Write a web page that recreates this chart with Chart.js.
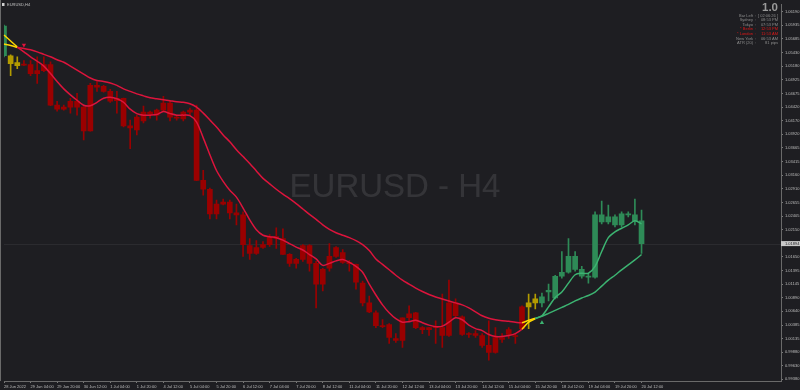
<!DOCTYPE html>
<html>
<head>
<meta charset="utf-8">
<script src="https://cdn.jsdelivr.net/npm/chart.js@4.4.0/dist/chart.umd.min.js"></script>
<style>
  html, body { margin: 0; padding: 0; background: #1e1e22; overflow: hidden; }
</style>
</head>
<body>
<canvas id="c" width="800" height="390"></canvas>
<script>
// EURUSD H4, 28 Jun 2022 12:00 .. 20 Jul 2022 12:00 (97 bars)
var symbol = 'EURUSD';
var period = 'H4';

var timeLabels = ['28 Jun 2022', '29 Jun 04:00', '29 Jun 20:00', '30 Jun 12:00', '1 Jul 04:00', '1 Jul 20:00',
  '4 Jul 12:00', '5 Jul 04:00', '5 Jul 20:00', '6 Jul 12:00', '7 Jul 04:00', '7 Jul 20:00', '8 Jul 12:00',
  '11 Jul 04:00', '11 Jul 20:00', '12 Jul 12:00', '13 Jul 04:00', '13 Jul 20:00', '14 Jul 12:00',
  '15 Jul 04:00', '15 Jul 20:00', '18 Jul 12:00', '19 Jul 04:00', '19 Jul 20:00', '20 Jul 12:00'];

var opens = [1.05372, 1.05372, 1.05244, 1.05207, 1.05207, 1.05043, 1.05098, 1.05207, 1.04457, 1.04384,
  1.04420, 1.04530, 1.04420, 1.03981, 1.04823, 1.04805, 1.04713, 1.04540, 1.04585, 1.04073,
  1.03999, 1.04164, 1.04329, 1.04274, 1.04365, 1.04494, 1.04237, 1.04201, 1.04329, 1.04365,
  1.03066, 1.02901, 1.02443, 1.02626, 1.02663, 1.02462, 1.02425, 1.01858, 1.01711, 1.01821,
  1.01876, 1.02022, 1.01986, 1.01693, 1.01528, 1.01601, 1.01858, 1.01528, 1.01144, 1.01437,
  1.01656, 1.01729, 1.01546, 1.01510, 1.01162, 1.00796, 1.00613, 1.00375, 1.00393, 1.00137,
  1.00100, 1.00521, 1.00613, 1.00338, 1.00302, 1.00338, 1.00338, 1.00192, 1.00796, 1.00540,
  1.00210, 1.00228, 1.00192, 1.00009, 0.99881, 1.00155, 1.00210, 1.00192, 1.00320, 1.00723,
  1.00796, 1.00796, 1.01000, 1.00887, 1.01290, 1.01363, 1.01656, 1.01418, 1.01290, 1.01272,
  1.02425, 1.02297, 1.02388, 1.02242, 1.02443, 1.02425, 1.02315];
var highs = [1.05940, 1.05390, 1.05354, 1.05281, 1.05281, 1.05354, 1.05354, 1.05260, 1.04530, 1.04457,
  1.04585, 1.04677, 1.04430, 1.04860, 1.04896, 1.04823, 1.04750, 1.04713, 1.04590, 1.04182,
  1.04274, 1.04439, 1.04347, 1.04384, 1.04622, 1.04530, 1.04274, 1.04347, 1.04402, 1.04457,
  1.03249, 1.02920, 1.02700, 1.02718, 1.02700, 1.02626, 1.02480, 1.01986, 1.01950, 1.01931,
  1.02060, 1.02187, 1.02169, 1.01711, 1.01620, 1.01876, 1.01876, 1.01565, 1.01437, 1.01894,
  1.01840, 1.01785, 1.01583, 1.01515, 1.01198, 1.00924, 1.00650, 1.00485, 1.00411, 1.00228,
  1.00521, 1.00741, 1.00620, 1.00357, 1.00345, 1.00466, 1.00961, 1.01217, 1.00869, 1.00558,
  1.00246, 1.00283, 1.00228, 1.00466, 1.00338, 1.00228, 1.00338, 1.00228, 1.00741, 1.00961,
  1.00961, 1.00979, 1.01144, 1.01308, 1.01748, 1.01986, 1.01748, 1.01473, 1.01327, 1.02480,
  1.02681, 1.02608, 1.02425, 1.02480, 1.02480, 1.02718, 1.02517];
var lows = [1.05350, 1.05006, 1.05134, 1.05189, 1.05006, 1.04860, 1.05080, 1.04450, 1.04347, 1.04365,
  1.04310, 1.04274, 1.03816, 1.03975, 1.04713, 1.04700, 1.04510, 1.04310, 1.04055, 1.03652,
  1.03908, 1.04128, 1.04219, 1.04182, 1.04347, 1.04164, 1.04182, 1.04164, 1.04274, 1.03060,
  1.02791, 1.02352, 1.02352, 1.02608, 1.02352, 1.02242, 1.01656, 1.01601, 1.01693, 1.01803,
  1.01840, 1.01803, 1.01690, 1.01473, 1.01437, 1.01565, 1.01382, 1.00704, 1.01016, 1.01382,
  1.01638, 1.01528, 1.01382, 1.01052, 1.00741, 1.00613, 1.00338, 1.00338, 1.00045, 1.00064,
  0.99972, 1.00466, 1.00320, 1.00228, 1.00192, 1.00045, 0.99972, 1.00174, 1.00521, 1.00192,
  1.00155, 1.00155, 0.99972, 0.99734, 0.99863, 1.00064, 1.00137, 1.00045, 1.00302, 1.00320,
  1.00686, 1.00723, 1.00833, 1.00869, 1.01254, 1.01345, 1.01382, 1.01254, 1.01162, 1.01254,
  1.02260, 1.02260, 1.02205, 1.02205, 1.02388, 1.02242, 1.01711];
var closes = [1.05921, 1.05226, 1.05189, 1.05200, 1.05043, 1.05098, 1.05207, 1.04457, 1.04384, 1.04420,
  1.04530, 1.04420, 1.03981, 1.04823, 1.04790, 1.04713, 1.04530, 1.04585, 1.04073, 1.04036,
  1.04237, 1.04329, 1.04290, 1.04365, 1.04494, 1.04237, 1.04219, 1.04329, 1.04365, 1.03066,
  1.02901, 1.02443, 1.02626, 1.02663, 1.02462, 1.02425, 1.01876, 1.01711, 1.01821, 1.01876,
  1.02022, 1.01986, 1.01693, 1.01528, 1.01601, 1.01858, 1.01528, 1.01144, 1.01418, 1.01656,
  1.01821, 1.01546, 1.01520, 1.01180, 1.00796, 1.00631, 1.00375, 1.00357, 1.00155, 1.00100,
  1.00521, 1.00595, 1.00338, 1.00302, 1.00338, 1.00350, 1.00192, 1.00796, 1.00558, 1.00210,
  1.00228, 1.00192, 1.00009, 0.99881, 1.00155, 1.00119, 1.00302, 1.00174, 1.00723, 1.00796,
  1.00869, 1.00906, 1.01030, 1.01290, 1.01363, 1.01656, 1.01418, 1.01290, 1.01272, 1.02425,
  1.02297, 1.02388, 1.02242, 1.02443, 1.02425, 1.02315, 1.01894];

// moving averages
var maFast = [1.05756, 1.05646, 1.05537, 1.05445, 1.05353, 1.05271, 1.05180, 1.05042, 1.04896, 1.04759,
  1.04649, 1.04548, 1.04457, 1.04447, 1.04511, 1.04585, 1.04603, 1.04576, 1.04511, 1.04383,
  1.04301, 1.04273, 1.04273, 1.04283, 1.04338, 1.04301, 1.04273, 1.04273, 1.04264, 1.04145,
  1.03852, 1.03541, 1.03248, 1.03047, 1.02882, 1.02754, 1.02553, 1.02333, 1.02150, 1.02049,
  1.02022, 1.02004, 1.01958, 1.01894, 1.01830, 1.01775, 1.01692, 1.01610, 1.01491, 1.01528,
  1.01574, 1.01601, 1.01546, 1.01473, 1.01363, 1.01143, 1.00942, 1.00759, 1.00612, 1.00503,
  1.00439, 1.00448, 1.00475, 1.00429, 1.00384, 1.00356, 1.00365, 1.00439, 1.00521, 1.00484,
  1.00384, 1.00320, 1.00283, 1.00210, 1.00173, 1.00173, 1.00191, 1.00228, 1.00310, 1.00439,
  1.00503, 1.00558, 1.00722, 1.00896, 1.00997, 1.01162, 1.01317, 1.01345, 1.01345, 1.01473,
  1.01747, 1.02004, 1.02113, 1.02178, 1.02242, 1.02315, 1.02260];
var maSlow = [1.05591, 1.05564, 1.05527, 1.05509, 1.05482, 1.05445, 1.05399, 1.05353, 1.05299, 1.05253,
  1.05180, 1.05106, 1.05033, 1.04960, 1.04914, 1.04896, 1.04868, 1.04823, 1.04759, 1.04713,
  1.04667, 1.04630, 1.04594, 1.04576, 1.04557, 1.04539, 1.04521, 1.04511, 1.04484, 1.04420,
  1.04310, 1.04182, 1.04054, 1.03907, 1.03779, 1.03633, 1.03505, 1.03377, 1.03239, 1.03102,
  1.03001, 1.02901, 1.02809, 1.02727, 1.02635, 1.02535, 1.02434, 1.02342, 1.02242, 1.02159,
  1.02095, 1.02049, 1.02004, 1.01949, 1.01876, 1.01766, 1.01610, 1.01509, 1.01409, 1.01308,
  1.01217, 1.01143, 1.01070, 1.01006, 1.00951, 1.00905, 1.00869, 1.00832, 1.00796, 1.00759,
  1.00704, 1.00631, 1.00558, 1.00512, 1.00484, 1.00466, 1.00457, 1.00439, 1.00429, 1.00475,
  1.00512, 1.00548, 1.00603, 1.00658, 1.00713, 1.00768, 1.00832, 1.00887, 1.00933, 1.00997,
  1.01107, 1.01217, 1.01308, 1.01409, 1.01500, 1.01592, 1.01692];

// trend state changes (bar index where the state starts)
var trendFrom = [[0, 'up'], [1, 'flat'], [3, 'down'], [79, 'flat'], [81, 'up']];
var signalsDown = [[3, 1.05574]];
var signalsUp = [[81, 1.00430]];

var priceTicks = [1.06190, 1.05935, 1.05685, 1.05430, 1.05180, 1.04925, 1.04675, 1.04420, 1.04170, 1.03920,
  1.03665, 1.03415, 1.03160, 1.02910, 1.02655, 1.02405, 1.02150, 1.01900, 1.01650, 1.01395,
  1.01145, 1.00890, 1.00640, 1.00385, 1.00135, 0.99880, 0.99630, 0.99380];
var lastPrice = 1.01894;

var spread = '1.0';
var infoRows = [['Bar Left', '[ 02:06:26 ]'], ['Sydney', '08:53 PM'], ['Tokyo', '07:53 PM'],
  ['* Berlin', '12:53 PM'], ['* London', '11:53 AM'], ['New York', '06:53 AM'], ['ATR (20)', '81 pips']];
var openSessions = ['* Berlin', '* London'];

var candleCol = { up: '#2e8b57', flat: '#b39b00', down: '#9a0000' };
var lineCol = { up: '#3cb371', flat: '#ffd700', down: '#dc143c' };
var FONT = '"Liberation Sans", Arial, sans-serif';

function stateAt(i) {
  var s = trendFrom[0][1];
  for (var k = 0; k < trendFrom.length; k++) {
    if (i >= trendFrom[k][0]) s = trendFrom[k][1];
  }
  return s;
}

var nSlots = 118; // bars plus empty space on the right (chart shift)
var slots = [];
for (var i = 0; i < nSlots; i++) slots.push(i);

var wicks = highs.map(function (h, i) { return [lows[i], h]; });
var bodies = opens.map(function (o, i) { return [o, closes[i]]; });
var colors = opens.map(function (o, i) { return candleCol[stateAt(i)]; });

function signalData(list) {
  var d = opens.map(function () { return null; });
  list.forEach(function (s) { d[s[0]] = s[1]; });
  return d;
}

function segColor(ctx) { return lineCol[stateAt(ctx.p1DataIndex)]; }

function isLabelled(i) { return i % 4 === 0 && i / 4 < timeLabels.length; }

var decor = {
  id: 'decor',
  beforeDatasetsDraw: function (chart) {
    var c = chart.ctx, a = chart.chartArea;
    c.save();
    c.font = '33px ' + FONT;
    c.fillStyle = 'rgba(255,255,255,0.10)';
    c.textAlign = 'center';
    c.textBaseline = 'middle';
    c.fillText(symbol + ' - ' + period, 395, 188);
    var y = Math.round(chart.scales.y.getPixelForValue(lastPrice)) + 0.5;
    c.strokeStyle = 'rgba(255,255,255,0.06)';
    c.lineWidth = 1;
    c.beginPath();
    c.moveTo(a.left, y);
    c.lineTo(a.right, y);
    c.stroke();
    c.restore();
  },
  afterDraw: function (chart) {
    var c = chart.ctx, a = chart.chartArea;
    c.save();
    // left frame
    c.strokeStyle = '#6a6a6a';
    c.lineWidth = 1;
    c.beginPath();
    c.moveTo(0.5, 0);
    c.lineTo(0.5, a.bottom);
    c.stroke();
    // last price box
    var y = chart.scales.y.getPixelForValue(lastPrice);
    c.fillStyle = '#c8c8c8';
    c.fillRect(a.right, y - 2.5, 19, 5);
    c.fillStyle = '#1e1e22';
    c.font = '4px ' + FONT;
    c.textBaseline = 'middle';
    c.textAlign = 'left';
    c.fillText(lastPrice.toFixed(5), a.right + 4, y);
    // title
    c.fillStyle = '#cfcfcf';
    c.fillRect(2, 3, 2.5, 3);
    c.fillStyle = '#c0c0c0';
    c.fillText(symbol + ',' + period, 7, 4.7);
    // info panel
    c.textAlign = 'right';
    c.fillStyle = '#9a9a9a';
    c.font = 'bold 11.5px ' + FONT;
    c.fillText(spread, 778, 8);
    c.font = '4px ' + FONT;
    infoRows.forEach(function (r, k) {
      var ry = 15.7 + k * 4.55;
      c.fillStyle = openSessions.indexOf(r[0]) >= 0 ? '#e01818' : '#8c8c8c';
      c.textAlign = 'right';
      c.fillText(r[0], 753, ry);
      c.textAlign = 'center';
      c.fillText(':', 755.5, ry);
      c.textAlign = 'right';
      c.fillText(r[1], 778, ry);
    });
    c.restore();
  }
};

new Chart(document.getElementById('c'), {
  type: 'bar',
  data: {
    labels: slots,
    datasets: [
      { type: 'line', data: maFast, order: 0, borderWidth: 1.5, pointRadius: 0, tension: 0.3,
        borderColor: lineCol.down, segment: { borderColor: segColor } },
      { type: 'line', data: maSlow, order: 0, borderWidth: 1.5, pointRadius: 0, tension: 0.3,
        borderColor: lineCol.down, segment: { borderColor: segColor } },
      { type: 'line', data: signalData(signalsDown), order: 0, showLine: false, pointStyle: 'triangle',
        pointRadius: 2.5, pointRotation: 180, pointBackgroundColor: lineCol.down, pointBorderWidth: 0 },
      { type: 'line', data: signalData(signalsUp), order: 0, showLine: false, pointStyle: 'triangle',
        pointRadius: 2.5, pointBackgroundColor: lineCol.up, pointBorderWidth: 0 },
      { data: bodies, order: 2, grouped: false, barThickness: 5, minBarLength: 1,
        backgroundColor: colors, borderWidth: 0, borderSkipped: false },
      { data: wicks, order: 3, grouped: false, barThickness: 1,
        backgroundColor: colors, borderWidth: 0, borderSkipped: false }
    ]
  },
  options: {
    responsive: false,
    animation: false,
    devicePixelRatio: 1,
    layout: { padding: { left: 1.5, top: 0, right: 0, bottom: 0 } },
    plugins: { legend: { display: false }, tooltip: { enabled: false } },
    scales: {
      x: {
        type: 'category',
        offset: false,
        grid: { display: true, drawOnChartArea: false, offset: false, tickLength: 2,
          tickColor: function (ctx) { return isLabelled(ctx.index) ? '#7a7a7a' : 'transparent'; } },
        border: { display: true, color: '#6a6a6a' },
        ticks: {
          autoSkip: false, maxRotation: 0, minRotation: 0, align: 'start', padding: 1,
          color: '#bdbdbd', font: { size: 4, family: FONT },
          callback: function (v, i) { return isLabelled(i) ? timeLabels[i / 4] : ''; }
        },
        afterFit: function (s) { s.height = 9; }
      },
      y: {
        position: 'right',
        min: 0.993495,
        max: 1.063236,
        afterBuildTicks: function (s) { s.ticks = priceTicks.map(function (v) { return { value: v }; }); },
        grid: { drawOnChartArea: false, tickLength: 2, tickColor: '#7a7a7a' },
        border: { display: true, color: '#6a6a6a' },
        ticks: { padding: 2, color: '#bdbdbd', font: { size: 4, family: FONT },
          callback: function (v) { return v.toFixed(5); } },
        afterFit: function (s) { s.width = 19; }
      }
    }
  },
  plugins: [decor]
});
</script>
</body>
</html>
